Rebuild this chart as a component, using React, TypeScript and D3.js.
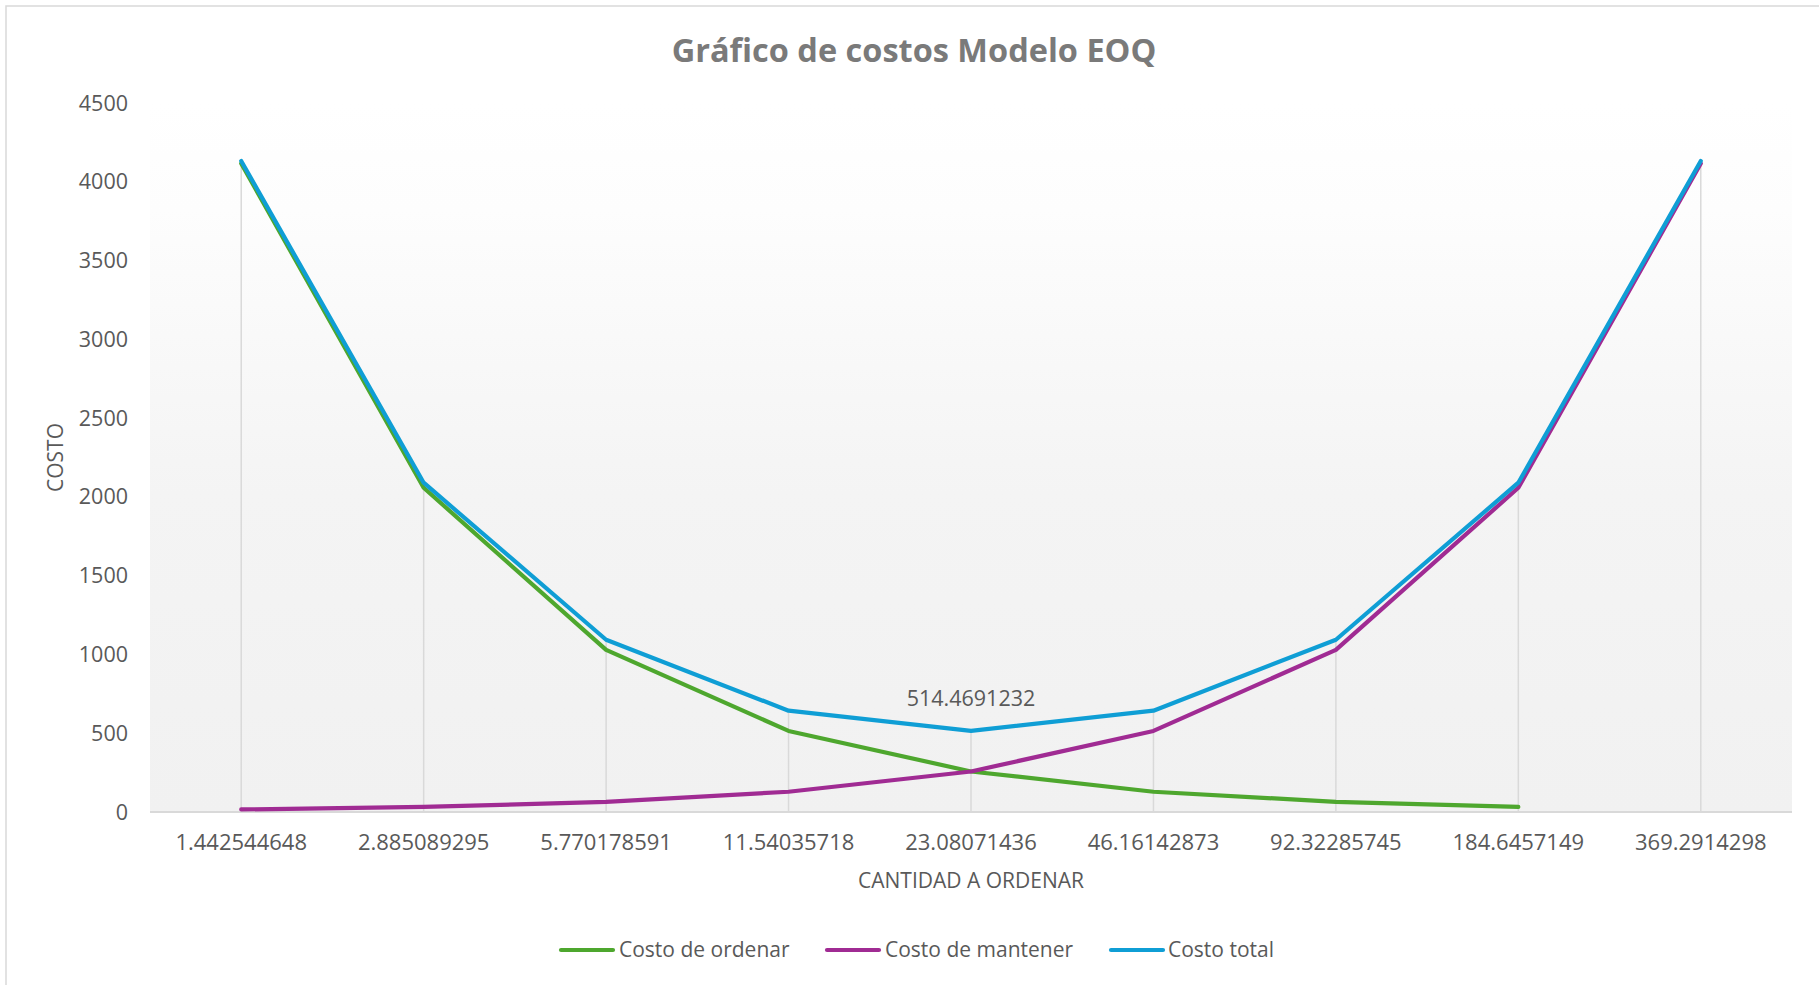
import React from "react";
import * as d3 from "d3";

const categories = [
  "1.442544648",
  "2.885089295",
  "5.770178591",
  "11.54035718",
  "23.08071436",
  "46.16142873",
  "92.32285745",
  "184.6457149",
  "369.2914298",
];
const costoOrdenar: (number | null)[] = [4115.75, 2057.88, 1028.94, 514.47, 257.23, 128.62, 64.31, 32.15, null];
const costoMantener: (number | null)[] = [16.08, 32.15, 64.31, 128.62, 257.23, 514.47, 1028.94, 2057.88, 4115.75];
const costoTotal: (number | null)[] = [4131.83, 2090.03, 1093.25, 643.09, 514.4691232, 643.09, 1093.25, 2090.03, 4131.83];
const yTicks = [0, 500, 1000, 1500, 2000, 2500, 3000, 3500, 4000, 4500];
const dataLabelIndex = 4;
const seriesNames = ["Costo de ordenar", "Costo de mantener", "Costo total"];
const seriesColors = ["#4EA72E", "#A02B93", "#0F9ED5"];

const W = 1819;
const H = 985;
const FONT = "'Open Sans', 'Liberation Sans', sans-serif";
const TEXT = "#595959";

export default function App() {
  const plotL = 150, plotR = 1792, plotT = 103, plotB = 812;
  const x = d3.scaleBand<string>().domain(categories).range([plotL, plotR]).padding(0);
  const cx = (c: string) => (x(c) as number) + x.bandwidth() / 2;
  const y = d3.scaleLinear().domain([0, 4500]).range([plotB, plotT]);

  const series = [costoOrdenar, costoMantener, costoTotal];
  const line = d3
    .line<number | null>()
    .defined((d) => d != null)
    .x((_, i) => cx(categories[i]))
    .y((d) => y(d as number));

  const maxAt = categories.map((_, i) =>
    d3.max(series.map((s) => (s[i] == null ? -Infinity : (s[i] as number))))
  ) as number[];

  const legendItems = [
    { lx: 561, tx: 619 },
    { lx: 827, tx: 885 },
    { lx: 1111, tx: 1168 },
  ];

  return (
    <svg
      width={W}
      height={H}
      style={{ position: "absolute", left: 0, top: 0, background: "#fff" }}
      fontFamily={FONT}
    >
      <defs>
        <linearGradient id="plotGrad" x1="0" y1="0" x2="0" y2="1">
          <stop offset="0" stopColor="#ffffff" />
          <stop offset="0.15" stopColor="#fdfdfd" />
          <stop offset="0.55" stopColor="#f4f4f4" />
          <stop offset="1" stopColor="#f1f1f1" />
        </linearGradient>
      </defs>
      <rect x={6} y={6} width={W + 20} height={H + 20} fill="#fff" stroke="#d9d9d9" strokeWidth={1.5} />
      <rect x={plotL} y={plotT} width={plotR - plotL} height={plotB - plotT} fill="url(#plotGrad)" />

      <text x={914} y={62} textAnchor="middle" fontSize={32.5} fontWeight="bold" fill="#7a7a7a">
        Gráfico de costos Modelo EOQ
      </text>

      {/* drop lines */}
      {categories.map((c, i) => (
        <line key={c} x1={cx(c)} x2={cx(c)} y1={y(maxAt[i])} y2={plotB} stroke="#d9d9d9" strokeWidth={1.5} />
      ))}

      {/* x axis line */}
      <line x1={plotL} x2={plotR} y1={plotB} y2={plotB} stroke="#d9d9d9" strokeWidth={2} />

      {/* y tick labels */}
      {yTicks.map((t) => (
        <text key={t} x={128} y={y(t)} dy="0.35em" textAnchor="end" fontSize={21.5} fill={TEXT}>
          {t}
        </text>
      ))}

      {/* x tick labels */}
      {categories.map((c) => (
        <text key={c} x={cx(c)} y={850} textAnchor="middle" fontSize={22} fill={TEXT}>
          {c}
        </text>
      ))}

      <text x={(plotL + plotR) / 2} y={888} textAnchor="middle" fontSize={21} fill={TEXT}>
        CANTIDAD A ORDENAR
      </text>
      <text
        transform={`translate(63,${(plotT + plotB) / 2}) rotate(-90)`}
        textAnchor="middle"
        fontSize={21}
        fill={TEXT}
      >
        COSTO
      </text>

      {/* series */}
      {series.map((s, k) => (
        <path
          key={k}
          d={line(s) || ""}
          fill="none"
          stroke={seriesColors[k]}
          strokeWidth={4.2}
          strokeLinecap="round"
          strokeLinejoin="round"
        />
      ))}

      {/* data label */}
      <text
        x={cx(categories[dataLabelIndex])}
        y={y(costoTotal[dataLabelIndex] as number) - 25}
        textAnchor="middle"
        fontSize={21.5}
        fill={TEXT}
      >
        {String(costoTotal[dataLabelIndex])}
      </text>

      {/* legend */}
      {legendItems.map((l, k) => (
        <g key={k}>
          <line x1={l.lx} x2={l.lx + 52} y1={950} y2={950} stroke={seriesColors[k]} strokeWidth={4.2} strokeLinecap="round" />
          <text x={l.tx} y={950} dy="0.35em" fontSize={21} fill={TEXT}>
            {seriesNames[k]}
          </text>
        </g>
      ))}
    </svg>
  );
}
